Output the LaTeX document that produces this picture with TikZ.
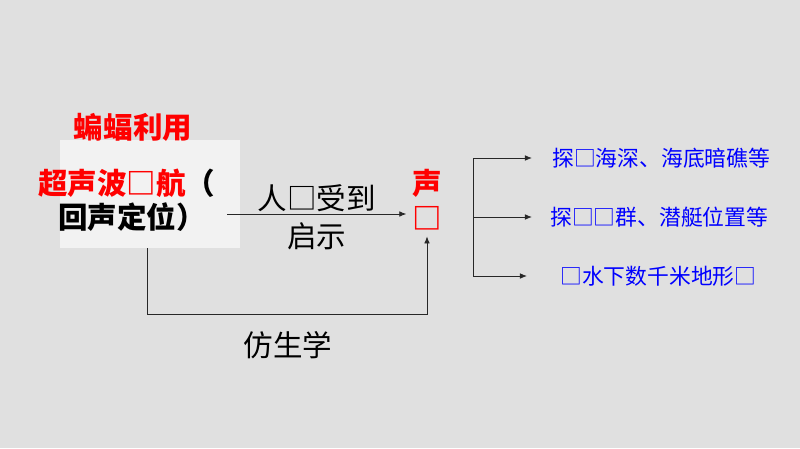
\documentclass[tikz,border=0pt]{standalone}
\usepackage{fontspec}
\setmainfont{Noto Sans CJK SC}
\usepackage{tikz}
\usetikzlibrary{arrows.meta, positioning}

\definecolor{bggray}{RGB}{224,224,224}
\definecolor{boxgray}{RGB}{242,242,242}
\definecolor{linegray}{RGB}{40,40,40}

\tikzset{
  big/.style={inner sep=0pt, font=\fontsize{21}{25}\selectfont},
  bigbold/.style={big, font=\fontsize{21}{25}\selectfont\bfseries},
  use/.style={inner sep=0pt, text=blue, font=\fontsize{15.5}{18}\selectfont, anchor=west},
  link/.style={draw=linegray, line width=0.6pt, -{Latex[length=5pt,width=4pt]}}
}

\begin{document}
\begin{tikzpicture}[x=0.025cm, y=-0.025cm]
   \fill[bggray] (0,0) rectangle (800,448);
   \node[fill=boxgray, minimum width=180*0.7113pt, minimum height=108*0.7113pt, inner sep=0pt] (box) at (150,194) {};
   \node[bigbold, text=red] (bat) at (133,127) {蝙蝠利用};
   \node[bigbold, anchor=west] (line1) at (38,183) {\textcolor{red}{超声波□航}（};
   \node[bigbold, anchor=west] (line2) at (58,217) {回声定位）};
   \node[bigbold, text=red, align=center, inner sep=4pt] (sound) at (427,200) {声\\□};
   % from the bat to the sonar
   \coordinate (start) at (227,214);
   \draw[link] (start) -- (start -| sound.west)
      node[big, midway, above=1pt] (hint) {人□受到}
      node[big, midway, below=6pt] (show) {启示};
   \coordinate (bio) at (147,314);
   \draw[link] (box.south -| bio) -- (bio) -| (sound.south);
   \node[big] (bionics) at (288,345) {仿生学};
   % uses
   \node[use] (use1) at (552,158) {探□海深、海底暗礁等};
   \node[use] (use2) at (550,217) {探□□群、潜艇位置等};
   \node[use] (use3) at (560,276) {□水下数千米地形□};
   \coordinate (fork) at (473,0);
   \draw[draw=linegray, line width=0.6pt] (fork |- use1) -- (fork |- use3);
   \draw[link] (fork |- use1) -- ([xshift=-20*0.7113pt]use1.west);
   \draw[link] (fork |- use2) -- ([xshift=-18*0.7113pt]use2.west);
   \draw[link] (fork |- use3) -- ([xshift=-33*0.7113pt]use3.west);
\end{tikzpicture}
\end{document}
